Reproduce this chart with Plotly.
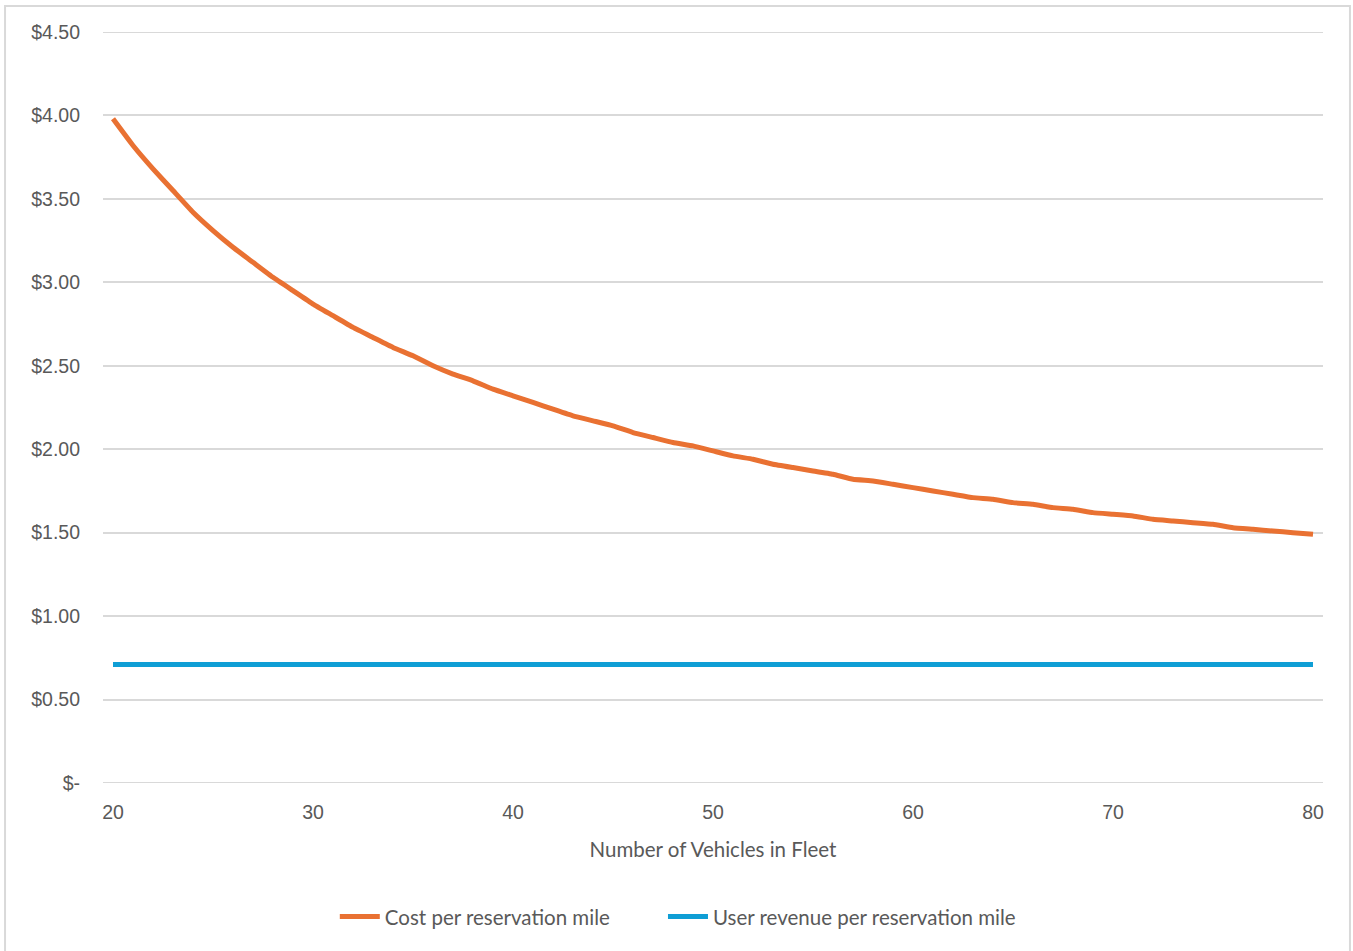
import plotly.graph_objects as go

# Fleet size (number of vehicles)
vehicles = list(range(20, 81))

# Cost per reservation mile for each fleet size ($)
cost_per_mile = [
    3.98, 3.82, 3.68, 3.55, 3.42, 3.31, 3.21, 3.12, 3.03, 2.95,
    2.87, 2.80, 2.73, 2.67, 2.61, 2.56, 2.50, 2.45, 2.41, 2.36,
    2.32, 2.28, 2.24, 2.20, 2.17, 2.14, 2.10, 2.07, 2.04, 2.02,
    1.99, 1.96, 1.94, 1.91, 1.89, 1.87, 1.85, 1.82, 1.81, 1.79,
    1.77, 1.75, 1.73, 1.71, 1.70, 1.68, 1.67, 1.65, 1.64, 1.62,
    1.61, 1.60, 1.58, 1.57, 1.56, 1.55, 1.53, 1.52, 1.51, 1.50,
    1.49,
]

# User revenue per reservation mile ($), flat across fleet sizes
revenue_per_mile = [
    0.71, 0.71, 0.71, 0.71, 0.71, 0.71, 0.71, 0.71, 0.71, 0.71,
    0.71, 0.71, 0.71, 0.71, 0.71, 0.71, 0.71, 0.71, 0.71, 0.71,
    0.71, 0.71, 0.71, 0.71, 0.71, 0.71, 0.71, 0.71, 0.71, 0.71,
    0.71, 0.71, 0.71, 0.71, 0.71, 0.71, 0.71, 0.71, 0.71, 0.71,
    0.71, 0.71, 0.71, 0.71, 0.71, 0.71, 0.71, 0.71, 0.71, 0.71,
    0.71, 0.71, 0.71, 0.71, 0.71, 0.71, 0.71, 0.71, 0.71, 0.71,
    0.71,
]

x_ticks = [20, 30, 40, 50, 60, 70, 80]
y_ticks = [0, 0.5, 1.0, 1.5, 2.0, 2.5, 3.0, 3.5, 4.0, 4.5]
y_tick_labels = ["$-", "$0.50", "$1.00", "$1.50", "$2.00", "$2.50",
                 "$3.00", "$3.50", "$4.00", "$4.50"]

ORANGE = "#E97132"
BLUE = "#0F9ED5"
GRID = "#D9D9D9"
TEXT = "#595959"

fig = go.Figure()
fig.add_trace(go.Scatter(
    x=vehicles, y=cost_per_mile, mode="lines",
    name="Cost per reservation mile", legend="legend",
    line=dict(color=ORANGE, width=5, shape="spline", smoothing=0.3),
))
fig.add_trace(go.Scatter(
    x=vehicles, y=revenue_per_mile, mode="lines",
    name="User revenue per reservation mile", legend="legend2",
    line=dict(color=BLUE, width=5),
))

# Gridlines at the two ends of the value axis (plotly skips them at range edges)
edge_gridlines = [
    dict(type="line", xref="paper", yref="y", x0=0, x1=1, y0=v, y1=v,
         line=dict(color=GRID, width=2), layer="below")
    for v in (y_ticks[0], y_ticks[-1])
]

legend_style = dict(
    orientation="h", xanchor="left", y=-0.178, yanchor="middle",
    font=dict(family="Lato", size=20.5, color=TEXT), itemwidth=40,
)

fig.update_layout(
    width=1353, height=951,
    margin=dict(l=103, r=30, t=32, b=168),
    paper_bgcolor="white", plot_bgcolor="white",
    showlegend=True,
    legend=dict(x=0.19, **legend_style),
    legend2=dict(x=0.459, **legend_style),
    shapes=[dict(
        type="rect", xref="paper", yref="paper",
        x0=-0.0803, x1=1.0221, y0=-0.235, y1=1.0346,
        line=dict(color=GRID, width=2), fillcolor="rgba(0,0,0,0)", layer="below",
    )] + edge_gridlines,
)

fig.update_xaxes(
    range=[19.5, 80.5], tickvals=x_ticks, ticktext=[str(v) for v in x_ticks],
    showgrid=False, zeroline=False, showline=False, ticks="",
    tickfont=dict(family="Liberation Sans", size=19.5, color=TEXT),
    ticklabelstandoff=15,
    title=dict(text="Number of Vehicles in Fleet",
               font=dict(family="Lato", size=20.5, color=TEXT), standoff=21),
)
fig.update_yaxes(
    range=[0, 4.5], tickvals=y_ticks, ticktext=y_tick_labels,
    showgrid=True, gridcolor=GRID, gridwidth=2,
    zeroline=False, showline=False, ticks="",
    tickfont=dict(family="Liberation Sans", size=19.5, color=TEXT),
    ticklabelstandoff=22,
)

fig.write_html("out.html")
